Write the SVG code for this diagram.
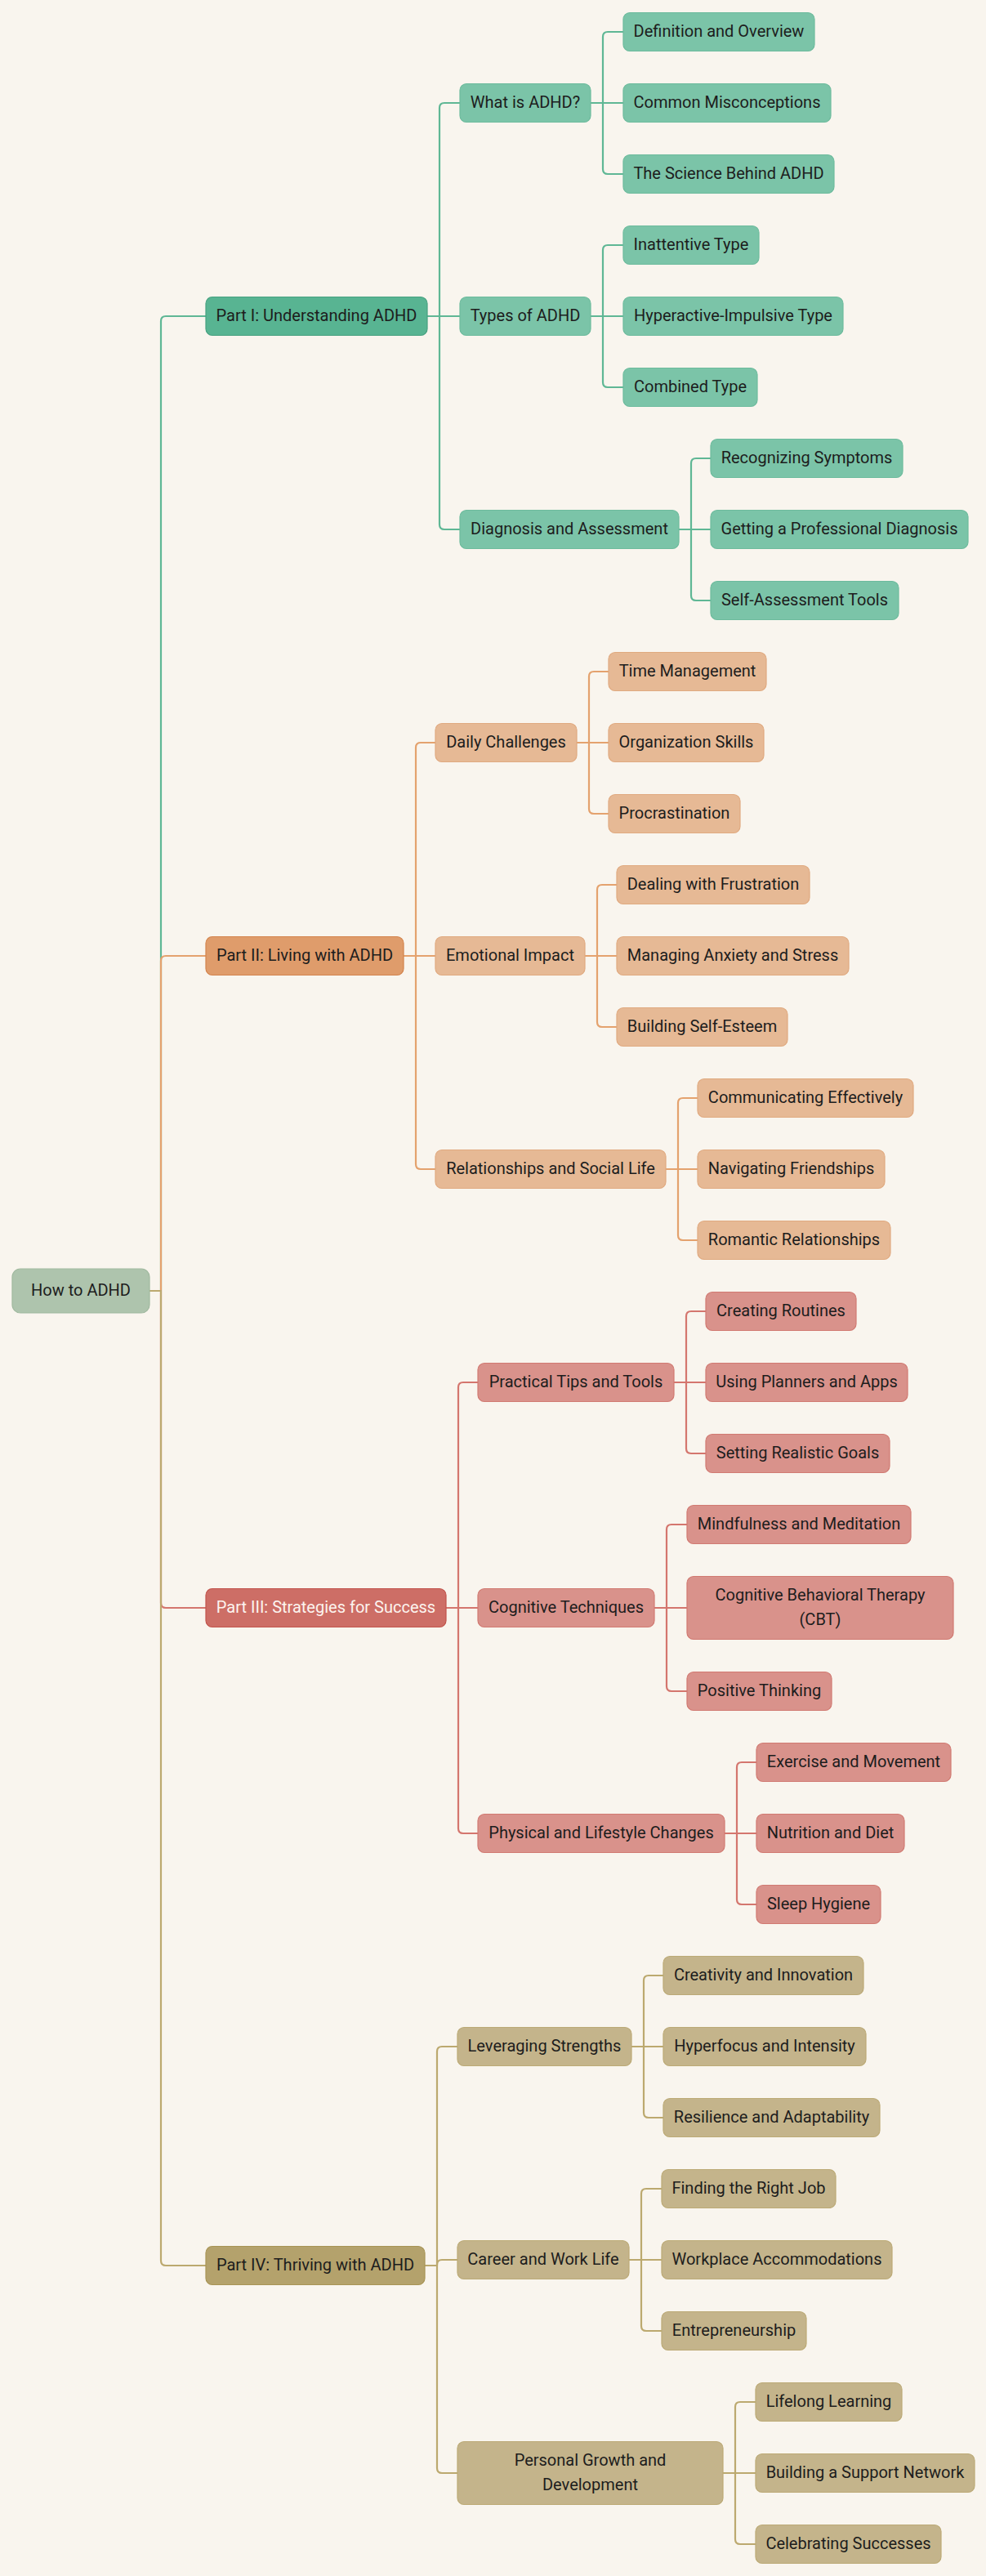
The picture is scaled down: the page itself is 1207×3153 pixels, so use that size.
<svg xmlns="http://www.w3.org/2000/svg" width="1207" height="3153" viewBox="0 0 1207 3153">
<style>
.bg{fill:#f9f5ee}
rect{stroke-width:1.2}
.c0{fill:#aec4ad;stroke:#a0b99f}
.p1{fill:#58b492;stroke:#47a180}
.s1{fill:#7bc4a8;stroke:#6dbb9d}
.p2{fill:#df9c6b;stroke:#d3844d}
.s2{fill:#e6b995;stroke:#e0aa80}
.p3{fill:#cd6e66;stroke:#c2544c}
.s3{fill:#d9928b;stroke:#d17a72}
.p4{fill:#b4a26c;stroke:#a89455}
.s4{fill:#c4b48b;stroke:#bcaa76}
path{fill:none;stroke-width:2.2;stroke-linecap:round;stroke-linejoin:round}
.e1{stroke:#5fb795}
.e2{stroke:#e4a26e}
.e3{stroke:#d4766e}
.e4{stroke:#bca96f}
text{font-family:Roboto,"Liberation Sans",sans-serif;font-size:20px;fill:#1d1d1d;text-anchor:middle}
.tw{fill:#fcf4ef}
</style>
<rect class="bg" x="0" y="0" width="1207" height="3153" style="stroke:none"/>
<g id="connectors">
<!-- root to parts -->
<path class="e1" d="M183,1580 H197 V393 Q197,387 203,387 H252"/>
<path class="e2" d="M183,1580 H197 V1176 Q197,1170 203,1170 H252"/>
<path class="e3" d="M183,1580 H197 V1962 Q197,1968 203,1968 H252"/>
<path class="e4" d="M183,1580 H197 V2767 Q197,2773 203,2773 H252"/>
<!-- Part I -->
<path class="e1" d="M523,387 H538 V132 Q538,126 544,126 H563"/>
<path class="e1" d="M523,387 H563"/>
<path class="e1" d="M523,387 H538 V642 Q538,648 544,648 H563"/>
<path class="e1" d="M723,126 H738 V45 Q738,39 744,39 H763"/>
<path class="e1" d="M723,126 H763"/>
<path class="e1" d="M723,126 H738 V207 Q738,213 744,213 H763"/>
<path class="e1" d="M723,387 H738 V306 Q738,300 744,300 H763"/>
<path class="e1" d="M723,387 H763"/>
<path class="e1" d="M723,387 H738 V468 Q738,474 744,474 H763"/>
<path class="e1" d="M831,648 H846 V567 Q846,561 852,561 H870"/>
<path class="e1" d="M831,648 H870"/>
<path class="e1" d="M831,648 H846 V729 Q846,735 852,735 H870"/>
<!-- Part II -->
<path class="e2" d="M494,1170 H509 V915 Q509,909 515,909 H533"/>
<path class="e2" d="M494,1170 H533"/>
<path class="e2" d="M494,1170 H509 V1425 Q509,1431 515,1431 H533"/>
<path class="e2" d="M706,909 H721 V828 Q721,822 727,822 H745"/>
<path class="e2" d="M706,909 H745"/>
<path class="e2" d="M706,909 H721 V990 Q721,996 727,996 H745"/>
<path class="e2" d="M716,1170 H731 V1089 Q731,1083 737,1083 H755"/>
<path class="e2" d="M716,1170 H755"/>
<path class="e2" d="M716,1170 H731 V1251 Q731,1257 737,1257 H755"/>
<path class="e2" d="M815,1431 H830 V1350 Q830,1344 836,1344 H854"/>
<path class="e2" d="M815,1431 H854"/>
<path class="e2" d="M815,1431 H830 V1512 Q830,1518 836,1518 H854"/>
<!-- Part III -->
<path class="e3" d="M546,1968 H561 V1698 Q561,1692 567,1692 H585"/>
<path class="e3" d="M546,1968 H585"/>
<path class="e3" d="M546,1968 H561 V2238 Q561,2244 567,2244 H585"/>
<path class="e3" d="M825,1692 H840 V1611 Q840,1605 846,1605 H864"/>
<path class="e3" d="M825,1692 H864"/>
<path class="e3" d="M825,1692 H840 V1773 Q840,1779 846,1779 H864"/>
<path class="e3" d="M801,1968 H816 V1872 Q816,1866 822,1866 H841"/>
<path class="e3" d="M801,1968 H841"/>
<path class="e3" d="M801,1968 H816 V2064 Q816,2070 822,2070 H841"/>
<path class="e3" d="M887,2244 H902 V2163 Q902,2157 908,2157 H926"/>
<path class="e3" d="M887,2244 H926"/>
<path class="e3" d="M887,2244 H902 V2325 Q902,2331 908,2331 H926"/>
<!-- Part IV -->
<path class="e4" d="M520,2773 H535 V2511 Q535,2505 541,2505 H560"/>
<path class="e4" d="M520,2773 H535 V2772 Q535,2766 541,2766 H560"/>
<path class="e4" d="M520,2773 H535 V3021 Q535,3027 541,3027 H560"/>
<path class="e4" d="M773,2505 H788 V2424 Q788,2418 794,2418 H812"/>
<path class="e4" d="M773,2505 H812"/>
<path class="e4" d="M773,2505 H788 V2586 Q788,2592 794,2592 H812"/>
<path class="e4" d="M770,2766 H785 V2685 Q785,2679 791,2679 H810"/>
<path class="e4" d="M770,2766 H810"/>
<path class="e4" d="M770,2766 H785 V2847 Q785,2853 791,2853 H810"/>
<path class="e4" d="M885,3027 H900 V2946 Q900,2940 906,2940 H925"/>
<path class="e4" d="M885,3027 H925"/>
<path class="e4" d="M885,3027 H900 V3108 Q900,3114 906,3114 H925"/>
</g>
<g id="root"><rect class="c0" x="15" y="1553" width="168" height="54" rx="10"/><text x="99" y="1586">How to ADHD</text></g>
<g id="part1"><rect class="p1" x="252" y="363.5" width="271" height="47" rx="8"/><text x="387.5" y="393">Part I: Understanding ADHD</text></g>
<g id="what-is"><rect class="s1" x="563" y="102.5" width="160" height="47" rx="8"/><text x="643" y="132">What is ADHD?</text></g>
<g id="definition"><rect class="s1" x="763" y="15.5" width="234" height="47" rx="8"/><text x="880" y="45">Definition and Overview</text></g>
<g id="misconceptions"><rect class="s1" x="763" y="102.5" width="254" height="47" rx="8"/><text x="890" y="132">Common Misconceptions</text></g>
<g id="science"><rect class="s1" x="763" y="189.5" width="258" height="47" rx="8"/><text x="892" y="219">The Science Behind ADHD</text></g>
<g id="types"><rect class="s1" x="563" y="363.5" width="160" height="47" rx="8"/><text x="643" y="393">Types of ADHD</text></g>
<g id="inattentive"><rect class="s1" x="763" y="276.5" width="166" height="47" rx="8"/><text x="846" y="306">Inattentive Type</text></g>
<g id="hyperactive"><rect class="s1" x="763" y="363.5" width="269" height="47" rx="8"/><text x="897.5" y="393">Hyperactive-Impulsive Type</text></g>
<g id="combined"><rect class="s1" x="763" y="450.5" width="164" height="47" rx="8"/><text x="845" y="480">Combined Type</text></g>
<g id="diagnosis"><rect class="s1" x="563" y="624.5" width="268" height="47" rx="8"/><text x="697" y="654">Diagnosis and Assessment</text></g>
<g id="recognizing"><rect class="s1" x="870" y="537.5" width="235" height="47" rx="8"/><text x="987.5" y="567">Recognizing Symptoms</text></g>
<g id="professional"><rect class="s1" x="870" y="624.5" width="315" height="47" rx="8"/><text x="1027.5" y="654">Getting a Professional Diagnosis</text></g>
<g id="self-assessment"><rect class="s1" x="870" y="711.5" width="230" height="47" rx="8"/><text x="985" y="741">Self-Assessment Tools</text></g>
<g id="part2"><rect class="p2" x="252" y="1146.5" width="242" height="47" rx="8"/><text x="373" y="1176">Part II: Living with ADHD</text></g>
<g id="daily"><rect class="s2" x="533" y="885.5" width="173" height="47" rx="8"/><text x="619.5" y="915">Daily Challenges</text></g>
<g id="time"><rect class="s2" x="745" y="798.5" width="193" height="47" rx="8"/><text x="841.5" y="828">Time Management</text></g>
<g id="organization"><rect class="s2" x="745" y="885.5" width="190" height="47" rx="8"/><text x="840" y="915">Organization Skills</text></g>
<g id="procrastination"><rect class="s2" x="745" y="972.5" width="161" height="47" rx="8"/><text x="825.5" y="1002">Procrastination</text></g>
<g id="emotional"><rect class="s2" x="533" y="1146.5" width="183" height="47" rx="8"/><text x="624.5" y="1176">Emotional Impact</text></g>
<g id="frustration"><rect class="s2" x="755" y="1059.5" width="236" height="47" rx="8"/><text x="873" y="1089">Dealing with Frustration</text></g>
<g id="anxiety"><rect class="s2" x="755" y="1146.5" width="284" height="47" rx="8"/><text x="897" y="1176">Managing Anxiety and Stress</text></g>
<g id="self-esteem"><rect class="s2" x="755" y="1233.5" width="209" height="47" rx="8"/><text x="859.5" y="1263">Building Self-Esteem</text></g>
<g id="relationships"><rect class="s2" x="533" y="1407.5" width="282" height="47" rx="8"/><text x="674" y="1437">Relationships and Social Life</text></g>
<g id="communicating"><rect class="s2" x="854" y="1320.5" width="264" height="47" rx="8"/><text x="986" y="1350">Communicating Effectively</text></g>
<g id="friendships"><rect class="s2" x="854" y="1407.5" width="229" height="47" rx="8"/><text x="968.5" y="1437">Navigating Friendships</text></g>
<g id="romantic"><rect class="s2" x="854" y="1494.5" width="236" height="47" rx="8"/><text x="972" y="1524">Romantic Relationships</text></g>
<g id="part3"><rect class="p3" x="252" y="1944.5" width="294" height="47" rx="8"/><text class="tw" x="399" y="1974">Part III: Strategies for Success</text></g>
<g id="practical"><rect class="s3" x="585" y="1668.5" width="240" height="47" rx="8"/><text x="705" y="1698">Practical Tips and Tools</text></g>
<g id="routines"><rect class="s3" x="864" y="1581.5" width="184" height="47" rx="8"/><text x="956" y="1611">Creating Routines</text></g>
<g id="planners"><rect class="s3" x="864" y="1668.5" width="247" height="47" rx="8"/><text x="987.5" y="1698">Using Planners and Apps</text></g>
<g id="goals"><rect class="s3" x="864" y="1755.5" width="225" height="47" rx="8"/><text x="976.5" y="1785">Setting Realistic Goals</text></g>
<g id="cognitive"><rect class="s3" x="585" y="1944.5" width="216" height="47" rx="8"/><text x="693" y="1974">Cognitive Techniques</text></g>
<g id="mindfulness"><rect class="s3" x="841" y="1842.5" width="274" height="47" rx="8"/><text x="978" y="1872">Mindfulness and Meditation</text></g>
<g id="cbt"><rect class="s3" x="841" y="1929.5" width="326" height="77" rx="8"/><text x="1004" y="1959">Cognitive Behavioral Therapy</text><text x="1004" y="1989">(CBT)</text></g>
<g id="positive"><rect class="s3" x="841" y="2046.5" width="177" height="47" rx="8"/><text x="929.5" y="2076">Positive Thinking</text></g>
<g id="physical"><rect class="s3" x="585" y="2220.5" width="302" height="47" rx="8"/><text x="736" y="2250">Physical and Lifestyle Changes</text></g>
<g id="exercise"><rect class="s3" x="926" y="2133.5" width="238" height="47" rx="8"/><text x="1045" y="2163">Exercise and Movement</text></g>
<g id="nutrition"><rect class="s3" x="926" y="2220.5" width="181" height="47" rx="8"/><text x="1016.5" y="2250">Nutrition and Diet</text></g>
<g id="sleep"><rect class="s3" x="926" y="2307.5" width="152" height="47" rx="8"/><text x="1002" y="2337">Sleep Hygiene</text></g>
<g id="part4"><rect class="p4" x="252" y="2749.5" width="268" height="47" rx="8"/><text x="386" y="2779">Part IV: Thriving with ADHD</text></g>
<g id="leveraging"><rect class="s4" x="560" y="2481.5" width="213" height="47" rx="8"/><text x="666.5" y="2511">Leveraging Strengths</text></g>
<g id="creativity"><rect class="s4" x="812" y="2394.5" width="245" height="47" rx="8"/><text x="934.5" y="2424">Creativity and Innovation</text></g>
<g id="hyperfocus"><rect class="s4" x="812" y="2481.5" width="248" height="47" rx="8"/><text x="936" y="2511">Hyperfocus and Intensity</text></g>
<g id="resilience"><rect class="s4" x="812" y="2568.5" width="265" height="47" rx="8"/><text x="944.5" y="2598">Resilience and Adaptability</text></g>
<g id="career"><rect class="s4" x="560" y="2742.5" width="210" height="47" rx="8"/><text x="665" y="2772">Career and Work Life</text></g>
<g id="job"><rect class="s4" x="810" y="2655.5" width="213" height="47" rx="8"/><text x="916.5" y="2685">Finding the Right Job</text></g>
<g id="workplace"><rect class="s4" x="810" y="2742.5" width="282" height="47" rx="8"/><text x="951" y="2772">Workplace Accommodations</text></g>
<g id="entrepreneurship"><rect class="s4" x="810" y="2829.5" width="177" height="47" rx="8"/><text x="898.5" y="2859">Entrepreneurship</text></g>
<g id="personal"><rect class="s4" x="560" y="2988.5" width="325" height="77" rx="8"/><text x="722.5" y="3018">Personal Growth and</text><text x="722.5" y="3048">Development</text></g>
<g id="lifelong"><rect class="s4" x="925" y="2916.5" width="179" height="47" rx="8"/><text x="1014.5" y="2946">Lifelong Learning</text></g>
<g id="support"><rect class="s4" x="925" y="3003.5" width="268" height="47" rx="8"/><text x="1059" y="3033">Building a Support Network</text></g>
<g id="celebrating"><rect class="s4" x="925" y="3090.5" width="227" height="47" rx="8"/><text x="1038.5" y="3120">Celebrating Successes</text></g>
</svg>
